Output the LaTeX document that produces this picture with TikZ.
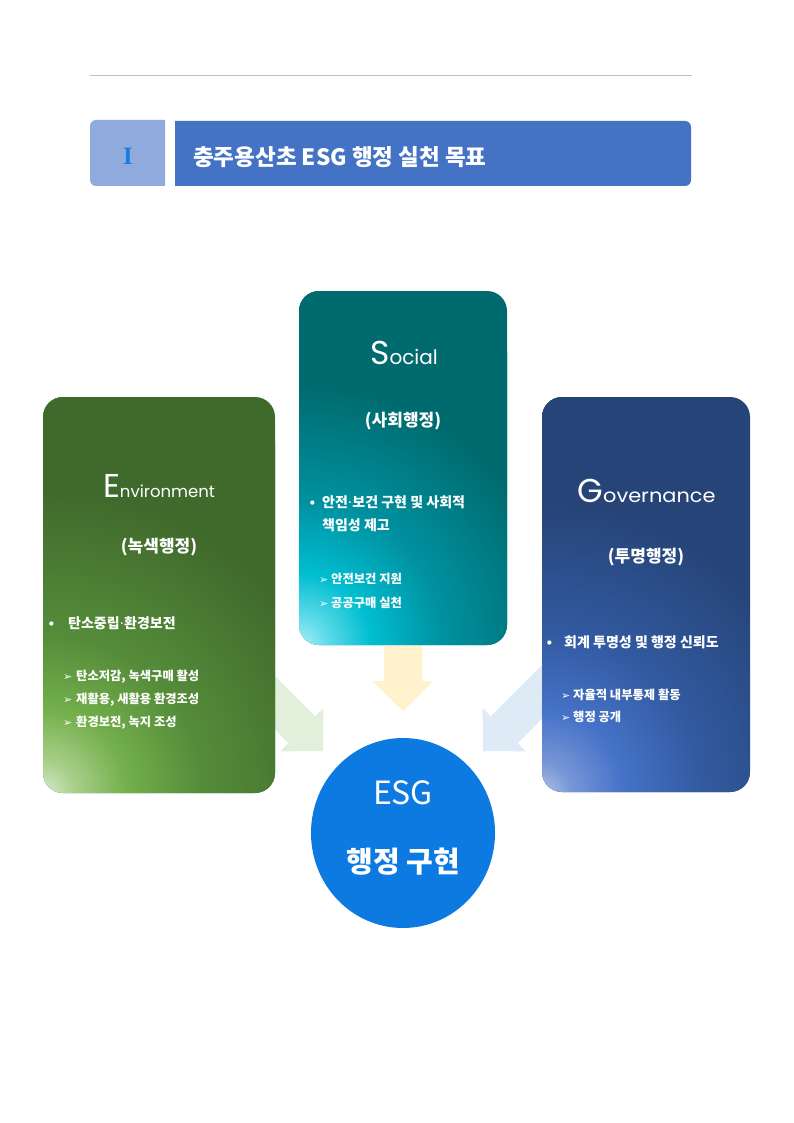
\documentclass[tikz,border=0pt]{standalone}
\usepackage{fontspec}
\usepackage{graphicx}
\setmainfont{Noto Sans CJK KR}
\newfontfamily\geo{Poppins}
\newfontfamily\dv{DejaVu Sans}
\newfontfamily\serI{Liberation Serif}
\usetikzlibrary{shapes.geometric}
\definecolor{lineGray}{RGB}{191,191,191}
\definecolor{tLight}{RGB}{143,170,220}
\definecolor{tBlue}{RGB}{68,114,196}
\definecolor{iBlue}{RGB}{30,125,220}
\definecolor{eDark}{RGB}{64,106,44}
\definecolor{sDark}{RGB}{0,107,110}
\definecolor{gDark}{RGB}{38,68,120}
\definecolor{circBlue}{RGB}{13,122,226}
\definecolor{arrY}{RGB}{255,242,204}
\definecolor{arrG}{RGB}{226,239,218}
\definecolor{arrB}{RGB}{222,235,247}
\definecolor{eA}{RGB}{215,233,205}
\definecolor{eB}{RGB}{170,208,140}
\definecolor{eC}{RGB}{115,175,75}
\definecolor{eD}{RGB}{85,140,58}
\definecolor{sA}{RGB}{175,240,245}
\definecolor{sB}{RGB}{100,220,235}
\definecolor{sC}{RGB}{0,190,208}
\definecolor{sD}{RGB}{0,145,160}
\definecolor{gA}{RGB}{175,190,225}
\definecolor{gB}{RGB}{120,150,215}
\definecolor{gC}{RGB}{70,115,200}
\definecolor{gD}{RGB}{50,90,160}
\pgfdeclareradialshading{eglow}{\pgfpoint{0bp}{0bp}}{color(0bp)=(eA); color(1.8bp)=(eB); color(5bp)=(eC); color(9.4bp)=(eD); color(18bp)=(eDark); color(50bp)=(eDark)}
\pgfdeclareradialshading{sglow}{\pgfpoint{0bp}{0bp}}{color(0bp)=(sA); color(1.8bp)=(sB); color(5bp)=(sC); color(10bp)=(sD); color(18bp)=(sDark); color(50bp)=(sDark)}
\pgfdeclareradialshading{gglow}{\pgfpoint{0bp}{0bp}}{color(0bp)=(gA); color(1.8bp)=(gB); color(5bp)=(gC); color(10bp)=(gD); color(18bp)=(gDark); color(50bp)=(gDark)}
\newcommand{\mybul}[1]{\makebox[#1][l]{{\dv\fontsize{12}{12}\selectfont •}}}
\newcommand{\myarr}[1]{\makebox[#1][l]{{\dv\fontsize{11}{11}\selectfont ➢}}}
\newcommand{\mydot}{{\dv\mdseries ·}}
\begin{document}
\begin{tikzpicture}[x=1pt,y=-1pt,
  box/.style={rectangle, rounded corners=20pt, inner sep=0pt, draw=none},
  headtxt/.style={text=white, anchor=base, inner sep=0pt},
  kor/.style={text=white, inner sep=0pt, font=\bfseries\fontsize{17}{20}\selectfont},
  item/.style={text=white, anchor=west, inner sep=0pt, font=\bfseries\fontsize{14}{23}\selectfont},
  subitem/.style={text=white, anchor=west, inner sep=0pt, font=\bfseries\fontsize{12.3}{14}\selectfont},
  blockarrow/.style={draw=none}]
\useasboundingbox (0,0) rectangle (793,1123);
\fill[white] (0,0) rectangle (793,1123);

% top rule
\draw[lineGray, line width=1pt] (90,76) -- (692,76);

% title bar
\fill[tLight] (165,120) -- (165,186) [rounded corners=6pt] -- (90,186) -- (90,120) [sharp corners] -- cycle;
\fill[tBlue] (175,121) -- (175,186) [rounded corners=6pt] -- (691,186) -- (691,121) [sharp corners] -- cycle;
\node[text=iBlue, inner sep=0pt, font=\serI\bfseries\fontsize{25}{25}\selectfont] (tnum) at (128,156) {I};
\node[text=white, anchor=west, inner sep=0pt, font=\bfseries\fontsize{22.5}{26}\selectfont] (ttitle) at (193,157) {충주용산초 ESG 행정 실천 목표};

% block arrows (behind the boxes)
\fill[arrY, blockarrow] (384,646) -- (422,646) -- (422,681) -- (433.5,681) -- (403,711) -- (372.5,681) -- (384,681) -- cycle;
\fill[arrG, blockarrow] (258.66,659.79) -- (315.23,716.36) -- (323.36,708.22) -- (323,751) -- (280.22,751.36) -- (288.36,743.23) -- (231.79,686.66) -- cycle;
\fill[arrB, blockarrow] (547.35,659.79) -- (490.78,716.36) -- (482.64,708.22) -- (483,751) -- (525.78,751.36) -- (517.65,743.23) -- (574.21,686.66) -- cycle;

% three boxes
\node[box, fill=eDark, minimum width=232pt, minimum height=396pt,
  path picture={\shade[shading=eglow] (path picture bounding box.south west) circle[radius=420pt];}] (env) at (159,595) {};
\node[box, fill=sDark, minimum width=208pt, minimum height=354pt,
  path picture={\shade[shading=sglow] (path picture bounding box.south west) circle[radius=360pt];}] (soc) at (403,468) {};
\node[box, fill=gDark, minimum width=208pt, minimum height=395pt,
  path picture={\shade[shading=gglow] (path picture bounding box.south west) circle[radius=400pt];}] (gov) at (646,594.5) {};

% Environment texts
\node[headtxt] (eh) at (159,497) {{\geo\fontsize{33}{33}\selectfont E}{\geo\fontsize{16.5}{18}\selectfont nvironment}};
\node[kor] (ek) at (159,547) {(녹색행정)};
\node[item] (e1) at (47.5,623) {\mybul{20.5pt}탄소중립\mydot 환경보전};
\node[subitem] (e2) at (63,677) {\myarr{13pt}탄소저감, 녹색구매 활성};
\node[subitem] (e3) at (63,700) {\myarr{13pt}재활용, 새활용 환경조성};
\node[subitem] (e4) at (63,723) {\myarr{13pt}환경보전, 녹지 조성};

% Social texts
\node[headtxt] (sh) at (404,364) {{\geo\fontsize{33}{33}\selectfont S}{\geo\fontsize{20}{20}\selectfont ocial}};
\node[kor] (sk) at (403,421) {(사회행정)};
\node[item, align=left] (s1) at (308.5,513.5) {\mybul{13.5pt}안전\mydot 보건 구현 및 사회적\\\hspace*{13.5pt}책임성 제고};
\node[subitem] (s2) at (319,579) {\myarr{12pt}안전보건 지원};
\node[subitem] (s3) at (319,603) {\myarr{12pt}공공구매 실천};

% Governance texts
\node[headtxt] (gh) at (646.5,502) {{\geo\fontsize{33}{33}\selectfont G}\scalebox{1.1}[1]{\geo\fontsize{19}{20}\selectfont overnance}};
\node[kor] (gk) at (646,557) {(투명행정)};
\node[item] (g1) at (545.5,642) {\mybul{18.5pt}회계 투명성 및 행정 신뢰도};
\node[subitem] (g2) at (561,695) {\myarr{12pt}자율적 내부통제 활동};
\node[subitem] (g3) at (561,717) {\myarr{12pt}행정 공개};

% centre circle
\node[ellipse, fill=circBlue, minimum width=184pt, minimum height=190pt, inner sep=0pt] (esg) at (403,833) {};
\node[text=white, inner sep=0pt, font=\fontsize{32}{34}\selectfont] (esg1) at (403,793) {ESG};
\node[text=white, inner sep=0pt, font=\bfseries\fontsize{29}{32}\selectfont] (esg2) at (403,862) {행정 구현};
\end{tikzpicture}
\end{document}
